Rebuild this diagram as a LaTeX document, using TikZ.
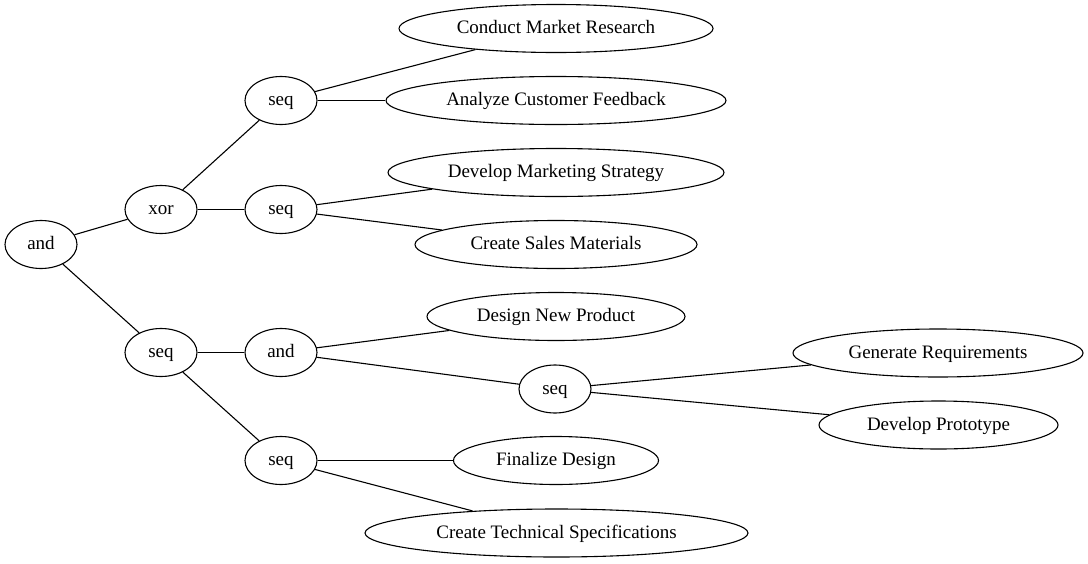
\documentclass[tikz,border=0pt]{standalone}
\usepackage{fontspec}
\setmainfont{Liberation Serif}
\usetikzlibrary{shapes.geometric}
\begin{document}
\begin{tikzpicture}[x=1pt,y=-1pt,
  nd/.style={draw, ellipse, line width=1.1pt, inner sep=0pt, minimum height=48pt, text height=13pt, text depth=3pt, font=\fontsize{19}{22}\selectfont},
  ed/.style={line width=1.1pt}]
\useasboundingbox (0,0) rectangle (1088,563);
\node[nd, minimum width=72pt] (and0) at (41,244.5) {and};
\node[nd, minimum width=72pt] (xor) at (161,209.5) {xor};
\node[nd, minimum width=72pt] (seqa) at (281,100.5) {seq};
\node[nd, minimum width=72pt] (seqb) at (281,209.5) {seq};
\node[nd, minimum width=72pt] (seqc) at (161,352.5) {seq};
\node[nd, minimum width=72pt] (and1) at (281,352.5) {and};
\node[nd, minimum width=72pt] (seqd) at (281,460.5) {seq};
\node[nd, minimum width=72pt] (seqe) at (555,389) {seq};
\node[nd, minimum width=314pt] (cmr) at (556,28.5) {Conduct Market Research};
\node[nd, minimum width=340pt] (acf) at (556,100.5) {Analyze Customer Feedback};
\node[nd, minimum width=336pt] (dms) at (556,172.5) {Develop Marketing Strategy};
\node[nd, minimum width=282pt] (csm) at (556,244.5) {Create Sales Materials};
\node[nd, minimum width=258pt] (dnp) at (556,316.5) {Design New Product};
\node[nd, minimum width=290pt] (gr) at (938,353) {Generate Requirements};
\node[nd, minimum width=239pt] (dp) at (938.5,425) {Develop Prototype};
\node[nd, minimum width=205pt] (fd) at (556,460.5) {Finalize Design};
\node[nd, minimum width=383pt] (cts) at (556.5,533) {Create Technical Specifications};
\draw[ed] (and0) -- (xor);
\draw[ed] (and0) -- (seqc);
\draw[ed] (xor) -- (seqa);
\draw[ed] (xor) -- (seqb);
\draw[ed] (seqa) -- (cmr);
\draw[ed] (seqa) -- (acf);
\draw[ed] (seqb) -- (dms);
\draw[ed] (seqb) -- (csm);
\draw[ed] (seqc) -- (and1);
\draw[ed] (seqc) -- (seqd);
\draw[ed] (and1) -- (dnp);
\draw[ed] (and1) -- (seqe);
\draw[ed] (seqe) -- (gr);
\draw[ed] (seqe) -- (dp);
\draw[ed] (seqd) -- (fd);
\draw[ed] (seqd) -- (cts);
\end{tikzpicture}
\end{document}
